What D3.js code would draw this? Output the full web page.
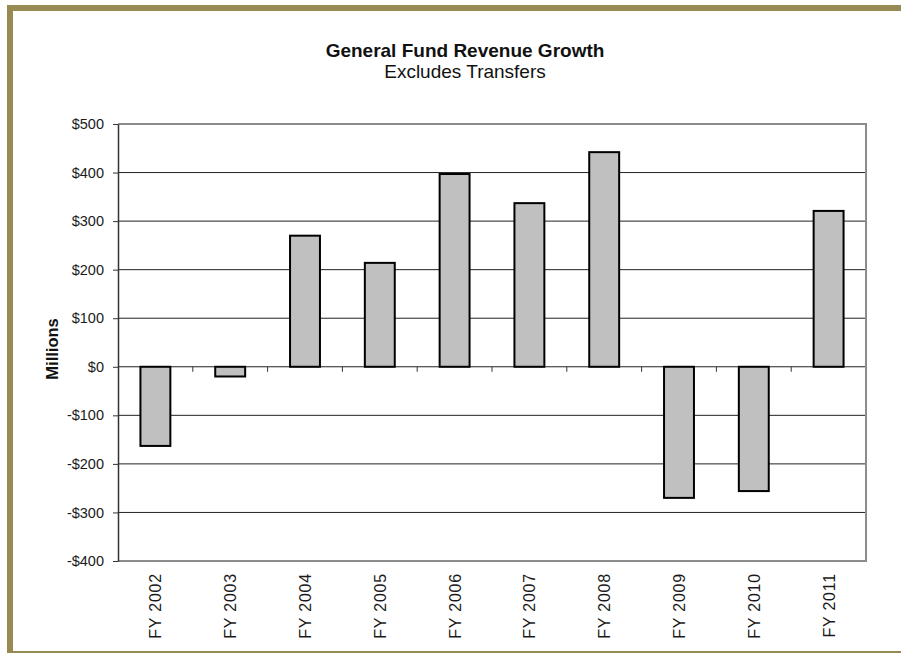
<!DOCTYPE html>
<html>
<head>
<meta charset="utf-8">
<script src="https://cdn.jsdelivr.net/npm/d3@7/dist/d3.min.js"></script>
<style>
  html, body { margin: 0; padding: 0; background: #fff; }
  svg { display: block; font-family: Arial, "Liberation Sans", sans-serif; }
</style>
</head>
<body>
<svg id="chart" width="901" height="653"></svg>
<script>
// Fiscal years and year-over-year general fund revenue change ($ millions)
const categories = ["FY 2002", "FY 2003", "FY 2004", "FY 2005", "FY 2006",
                    "FY 2007", "FY 2008", "FY 2009", "FY 2010", "FY 2011"];
const growth = [-163, -20, 270, 214, 397, 337, 442, -270, -256, 321];
const yTicks = [500, 400, 300, 200, 100, 0, -100, -200, -300, -400];

const svg = d3.select("#chart");
const W = 901, H = 653;
const frameColor = "#978b53";

// page frame
svg.append("rect").attr("x", 7).attr("y", 5).attr("width", W - 7).attr("height", 6).attr("fill", frameColor);
svg.append("rect").attr("x", 7).attr("y", 5).attr("width", 6).attr("height", H - 5).attr("fill", frameColor);
svg.append("rect").attr("x", 7).attr("y", 651).attr("width", W - 7).attr("height", 2).attr("fill", frameColor);

const plot = { left: 118, top: 124, right: 866, bottom: 561 };

const x = d3.scaleBand()
  .domain(categories)
  .range([plot.left, plot.right])
  .paddingInner(0.6)
  .paddingOuter(0.3);

const y = d3.scaleLinear()
  .domain([-400, 500])
  .range([plot.bottom, plot.top]);

// gridlines
svg.append("g")
  .selectAll("line")
  .data(yTicks.filter(d => d !== 500 && d !== -400))
  .join("line")
  .attr("x1", plot.left).attr("x2", plot.right)
  .attr("y1", d => y(d)).attr("y2", d => y(d))
  .attr("stroke", "#222").attr("stroke-width", 1);

// plot area border (top, right, bottom)
svg.append("path")
  .attr("d", `M${plot.left},${y(500)}H${plot.right}V${y(-400)}H${plot.left}`)
  .attr("fill", "none").attr("stroke", "#8c8c8c").attr("stroke-width", 2);

// bars
svg.append("g")
  .selectAll("rect")
  .data(growth)
  .join("rect")
  .attr("x", (d, i) => x(categories[i]))
  .attr("width", x.bandwidth())
  .attr("y", d => y(Math.max(0, d)))
  .attr("height", d => Math.abs(y(d) - y(0)))
  .attr("fill", "#c0c0c0")
  .attr("stroke", "#000")
  .attr("stroke-width", 2);

// y axis
const yAxis = svg.append("g")
  .attr("transform", `translate(${plot.left},0)`)
  .call(d3.axisLeft(y).tickValues(yTicks).tickSize(5).tickSizeOuter(0).tickPadding(9)
    .tickFormat(d => (d < 0 ? "-$" : "$") + Math.abs(d)));
yAxis.select(".domain").attr("stroke", "#333").attr("stroke-width", 1.5);
yAxis.selectAll(".tick line").attr("stroke", "#333");
yAxis.selectAll(".tick text")
  .attr("font-size", "14.5px").attr("fill", "#1a1a1a")
  .attr("font-family", "Arial, 'Liberation Sans', sans-serif");

// category boundary ticks on the zero line
const boundaries = d3.range(1, categories.length).map(i => plot.left + i * (plot.right - plot.left) / categories.length);
svg.append("g")
  .selectAll("line")
  .data(boundaries)
  .join("line")
  .attr("x1", d => d).attr("x2", d => d)
  .attr("y1", y(0)).attr("y2", y(0) + 5)
  .attr("stroke", "#333").attr("stroke-width", 1);

// category labels, rotated
svg.append("g")
  .selectAll("text")
  .data(categories)
  .join("text")
  .attr("transform", d => `translate(${x(d) + x.bandwidth() / 2 + 6},${plot.bottom + 12}) rotate(-90)`)
  .attr("text-anchor", "end")
  .attr("font-size", "16px")
  .attr("letter-spacing", "0.8px")
  .attr("fill", "#1a1a1a")
  .text(d => d);

// y axis title
svg.append("text")
  .attr("transform", `translate(58,349) rotate(-90)`)
  .attr("text-anchor", "middle")
  .attr("font-size", "16.5px")
  .attr("font-weight", "bold")
  .attr("fill", "#111")
  .text("Millions");

// titles
svg.append("text")
  .attr("x", 465).attr("y", 57)
  .attr("text-anchor", "middle")
  .attr("font-size", "19px")
  .attr("font-weight", "bold")
  .attr("fill", "#111")
  .text("General Fund Revenue Growth");
svg.append("text")
  .attr("x", 465).attr("y", 78)
  .attr("text-anchor", "middle")
  .attr("font-size", "19px")
  .attr("fill", "#111")
  .text("Excludes Transfers");
</script>
</body>
</html>
